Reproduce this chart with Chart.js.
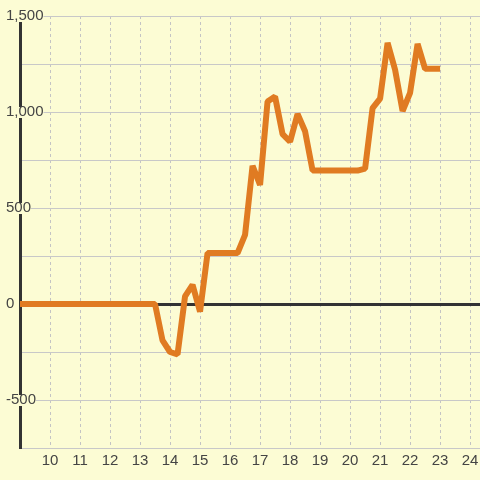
<!DOCTYPE html>
<html><head><meta charset="utf-8">
<script src="https://cdn.jsdelivr.net/npm/chart.js@4/dist/chart.umd.min.js"></script>
<style>html,body{margin:0;padding:0;background:#FCFCD4;}canvas{display:block;}</style>
</head><body>
<canvas id="c" width="480" height="480"></canvas>
<script>
const hours = [9, 9.25, 9.5, 9.75, 10, 10.25, 10.5, 10.75, 11, 11.25, 11.5, 11.75, 12, 12.25, 12.5, 12.75, 13, 13.25, 13.5,
  13.75, 14, 14.25, 14.5, 14.75, 15, 15.25, 15.5, 15.75, 16, 16.25, 16.5, 16.75, 17, 17.25, 17.5, 17.75, 18, 18.25, 18.5, 18.75,
  19, 19.25, 19.5, 19.75, 20, 20.25, 20.5, 20.75, 21, 21.25, 21.5, 21.75, 22, 22.25, 22.5, 22.75, 23];
const values = [0, 0, 0, 0, 0, 0, 0, 0, 0, 0, 0, 0, 0, 0, 0, 0, 0, 0, 0,
  -190, -250, -262, 40, 100, -40, 265, 265, 265, 265, 265, 360, 720, 620, 1055, 1080, 885, 845, 990, 900, 695,
  695, 695, 695, 695, 695, 695, 705, 1020, 1070, 1360, 1220, 1005, 1100, 1355, 1225, 1225, 1225];
const xTickLabels = [10, 11, 12, 13, 14, 15, 16, 17, 18, 19, 20, 21, 22, 23, 24];
const yTickLabels = [-500, 0, 500, 1000, 1500];

const BG = '#FCFCD4';
const points = hours.map((h, i) => ({x: h, y: values[i]}));

new Chart(document.getElementById('c'), {
  type: 'line',
  data: { datasets: [{
    data: points,
    borderColor: '#E07B22',
    borderWidth: 6,
    borderJoinStyle: 'bevel',
    pointRadius: 0,
    tension: 0,
    fill: false
  }]},
  options: {
    responsive: false,
    animation: false,
    devicePixelRatio: 1,
    layout: { padding: { left: 6, top: 16, right: 0, bottom: 7 } },
    plugins: { legend: { display: false }, tooltip: { enabled: false } },
    scales: {
      x: {
        type: 'linear',
        min: 9, max: 24.33,
        grid: { color: '#C4C4C4', lineWidth: 1, drawTicks: false },
        border: { display: false, dash: [3, 3] },
        ticks: {
          stepSize: 1, includeBounds: false, autoSkip: false, maxRotation: 0, padding: 0,
          color: '#444',
          font: { family: 'Liberation Sans', size: 15, lineHeight: '25px' },
          callback: (v) => xTickLabels.includes(v) ? String(v) : ''
        }
      },
      y: {
        min: -750, max: 1500,
        afterFit: (scale) => { scale.width = 14; },
        grid: {
          drawTicks: false,
          color: (ctx) => ctx.tick && ctx.tick.value === 0 ? '#333' : '#C8C8C8',
          lineWidth: (ctx) => ctx.tick && ctx.tick.value === 0 ? 3 : 1
        },
        border: { display: true, width: 3, color: '#333' },
        ticks: {
          stepSize: 250, autoSkip: false, mirror: true, padding: -14, crossAlign: 'near',
          color: '#444',
          font: { family: 'Liberation Sans', size: 15 },
          showLabelBackdrop: true,
          backdropColor: BG,
          backdropPadding: { top: -4, bottom: -3, left: 0, right: 0 },
          callback: (v) => yTickLabels.includes(v) ? v.toLocaleString('en-US') : ''
        }
      }
    }
  }
});
</script>
</body></html>
